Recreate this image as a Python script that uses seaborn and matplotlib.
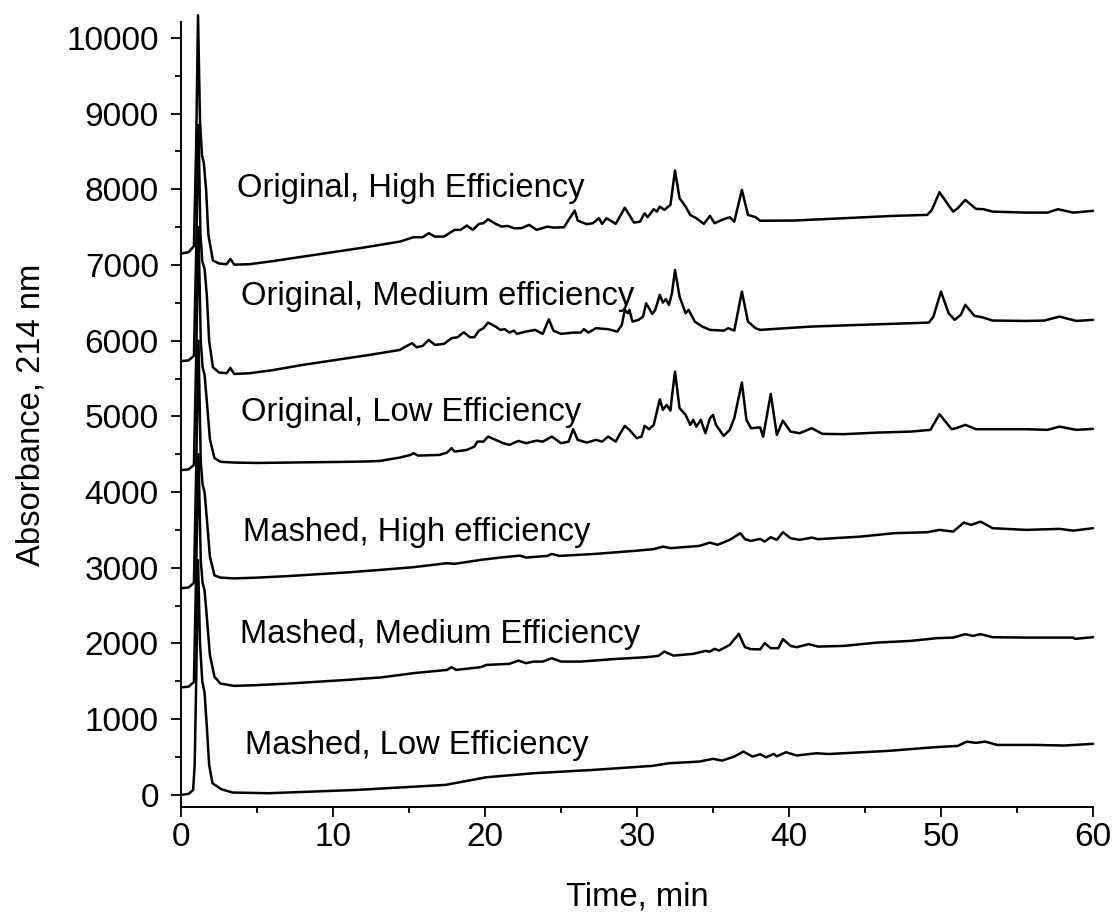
import numpy as np
import pandas as pd
import matplotlib
matplotlib.use("Agg")
import matplotlib.pyplot as plt
from matplotlib.ticker import MultipleLocator
import seaborn as sns

# ---------------- data ----------------
labels = ["Original, High Efficiency", "Original, Medium efficiency",
          "Original, Low Efficiency", "Mashed, High efficiency",
          "Mashed, Medium Efficiency", "Mashed, Low Efficiency"]

orig_high_t = [0, 0.5, 0.85, 1.0, 1.12, 1.25, 1.38, 1.5, 1.65, 1.8, 2.1, 2.5, 3.0, 3.25, 3.5, 4.5, 6, 8, 10, 12,
               13.1, 14.4, 15.3, 15.9, 16.3, 16.7, 17.3, 18.0, 18.4, 18.8, 19.2, 19.6, 19.9, 20.2, 20.7, 21.1,
               21.5, 21.9, 22.4, 22.9, 23.4, 24.1, 24.5, 25.2, 25.5, 25.9, 26.1, 26.7, 27.1, 27.5, 27.7, 28.0,
               28.6, 29.2, 29.8, 30.2, 30.5, 30.7, 31.1, 31.3, 31.5, 31.8, 32.2, 32.5, 32.8, 33.2, 33.5, 33.9,
               34.4, 34.8, 35.1, 35.7, 36.1, 36.4, 36.9, 37.3, 37.8, 38.1, 40.3, 43.6, 46.9, 49.1, 49.4, 49.9,
               50.4, 50.8, 51.1, 51.6, 52.3, 52.8, 53.4, 55.6, 57.0, 57.7, 58.7, 60.0]
orig_high_v = [7150, 7170, 7250, 8600, 10300, 8900, 8450, 8350, 8000, 7400, 7060, 7020, 7010, 7080, 7005, 7010, 7050, 7110, 7170, 7230,
               7266, 7309, 7367, 7367, 7420, 7375, 7375, 7464, 7464, 7521, 7464, 7543, 7552, 7605, 7543, 7507,
               7516, 7486, 7486, 7530, 7464, 7507, 7494, 7499, 7596, 7719, 7587, 7539, 7552, 7618, 7543, 7618,
               7543, 7758, 7560, 7573, 7684, 7631, 7737, 7705, 7771, 7728, 7794, 8247, 7882, 7771, 7662, 7618,
               7543, 7649, 7552, 7605, 7631, 7573, 7992, 7662, 7631, 7585, 7587, 7618, 7649, 7662, 7728, 7962,
               7816, 7705, 7750, 7860, 7741, 7737, 7705, 7692, 7692, 7737, 7692, 7715]

orig_med_t = [0, 0.5, 0.85, 1.0, 1.15, 1.28, 1.4, 1.55, 1.7, 1.85, 2.1, 2.5, 3.0, 3.25, 3.5, 4.5, 6, 8, 10, 12,
              13.1, 14.4, 14.7, 15.2, 15.5, 15.9, 16.3, 16.7, 17.3, 17.8, 18.2, 18.6, 19.0, 19.3, 19.6, 19.9,
              20.2, 20.7, 21.0, 21.3, 21.6, 21.9, 22.1, 22.7, 23.3, 23.8, 24.2, 24.5, 25.0, 25.8, 26.3, 26.5,
              26.8, 27.3, 28.1, 28.7, 29.0, 29.2, 29.4, 29.5, 29.7, 30.1, 30.4, 30.6, 31.0, 31.2, 31.5, 31.7,
              31.9, 32.1, 32.3, 32.5, 32.8, 33.0, 33.2, 33.4, 33.8, 34.3, 34.8, 35.7, 36.0, 36.4, 36.9, 37.3,
              37.8, 38.1, 41.4, 44.7, 48.0, 49.2, 49.5, 50.0, 50.5, 50.9, 51.3, 51.6, 52.2, 52.7, 53.4, 55.6,
              56.8, 57.8, 58.9, 60.0]
orig_med_v = [5730, 5740, 5800, 7200, 8850, 7400, 7050, 6950, 6600, 6000, 5650, 5580, 5570, 5640, 5560, 5570, 5610, 5680, 5740, 5800,
              5835, 5878, 5914, 5967, 5914, 5931, 6011, 5945, 5958, 6033, 6046, 6112, 6046, 6046, 6133, 6165,
              6239, 6186, 6143, 6152, 6107, 6133, 6090, 6120, 6143, 6090, 6284, 6133, 6090, 6107, 6107, 6152,
              6107, 6165, 6152, 6120, 6209, 6407, 6363, 6407, 6252, 6275, 6318, 6495, 6354, 6407, 6605, 6503,
              6548, 6473, 6627, 6935, 6582, 6473, 6363, 6407, 6252, 6186, 6143, 6133, 6165, 6133, 6649, 6252,
              6165, 6143, 6186, 6209, 6231, 6239, 6318, 6649, 6363, 6275, 6341, 6473, 6328, 6310, 6266, 6261,
              6266, 6318, 6261, 6275]

orig_low_t = [0, 0.5, 0.85, 1.0, 1.15, 1.3, 1.42, 1.55, 1.7, 1.9, 2.2, 2.6, 3.5, 5, 7, 9, 11, 12.3,
              13.1, 14.4, 15.1, 15.3, 15.6, 17.0, 17.5, 17.8, 18.0, 18.8, 19.3, 19.5, 19.9, 20.2, 20.7, 21.2,
              21.6, 22.2, 22.7, 23.4, 23.8, 24.4, 25.0, 25.5, 25.8, 26.1, 26.7, 27.3, 27.7, 28.1, 28.6, 28.9,
              29.2, 29.5, 29.98, 30.3, 30.5, 30.8, 31.1, 31.5, 31.7, 31.95, 32.2, 32.3, 32.5, 32.8, 32.9, 33.2,
              33.5, 33.7, 33.9, 34.2, 34.5, 34.8, 35.0, 35.2, 35.7, 36.1, 36.4, 36.9, 37.2, 37.5, 38.1, 38.3,
              38.8, 39.2, 39.6, 40.1, 40.7, 41.5, 42.2, 43.6, 45.8, 48.0, 49.3, 49.9, 50.7, 51.0, 51.6, 52.3,
              55.6, 57.0, 57.8, 58.9, 60.0]
orig_low_v = [4290, 4300, 4360, 5800, 7500, 6000, 5650, 5550, 5200, 4700, 4450, 4400, 4390, 4385, 4390, 4395, 4400, 4405,
              4412, 4456, 4491, 4514, 4482, 4491, 4522, 4580, 4535, 4557, 4601, 4667, 4667, 4733, 4690, 4646,
              4624, 4676, 4646, 4680, 4667, 4733, 4646, 4667, 4831, 4690, 4654, 4690, 4667, 4733, 4667, 4778,
              4874, 4822, 4712, 4733, 4874, 4831, 4888, 5227, 5086, 5152, 5077, 5262, 5592, 5108, 5086, 5020,
              4888, 4954, 4865, 4954, 4778, 4976, 5020, 4888, 4742, 4822, 4976, 5447, 4954, 4844, 4855, 4733,
              5297, 4756, 4944, 4799, 4778, 4844, 4769, 4765, 4786, 4799, 4822, 5029, 4831, 4844, 4888, 4831,
              4831, 4822, 4865, 4822, 4835]

mash_high_t = [0, 0.5, 0.85, 1.0, 1.15, 1.3, 1.42, 1.55, 1.7, 1.9, 2.2, 2.6, 3.5, 5, 7, 9, 11, 12.3,
               13.1, 15.3, 17.5, 18.0, 19.7, 21.0, 22.3, 22.7, 24.1, 24.4, 24.9, 27.3, 29.8, 31.1, 31.7, 32.2,
               34.1, 34.8, 35.3, 36.1, 36.8, 37.1, 37.5, 38.1, 38.4, 38.8, 39.2, 39.6, 40.1, 40.7, 41.5, 41.9,
               44.7, 46.9, 49.1, 49.9, 50.8, 51.5, 52.0, 52.6, 53.4, 55.6, 57.8, 58.7, 60.0]
mash_high_v = [2730, 2740, 2800, 4300, 6000, 4400, 4100, 4000, 3650, 3150, 2900, 2870, 2860, 2870, 2890, 2915, 2940, 2960,
               2972, 3008, 3061, 3052, 3104, 3135, 3161, 3135, 3157, 3184, 3157, 3184, 3223, 3246, 3280, 3259,
               3289, 3333, 3303, 3369, 3457, 3378, 3355, 3382, 3346, 3404, 3369, 3470, 3391, 3369, 3399, 3378,
               3412, 3457, 3470, 3501, 3478, 3597, 3567, 3610, 3523, 3501, 3514, 3491, 3523]

mash_med_t = [0, 0.5, 0.85, 1.0, 1.15, 1.3, 1.42, 1.55, 1.7, 1.9, 2.2, 2.6, 3.5, 5, 7, 9, 11, 12.3,
              13.1, 15.3, 17.5, 17.8, 18.1, 19.7, 20.1, 21.6, 22.2, 22.7, 23.2, 23.8, 24.4, 25.0, 26.3, 28.4,
              30.6, 31.4, 31.8, 32.4, 33.7, 34.5, 34.8, 35.1, 35.4, 36.1, 36.7, 37.1, 37.5, 38.1, 38.4, 38.8,
              39.3, 39.6, 40.1, 40.5, 41.3, 41.9, 43.6, 45.8, 48.0, 49.7, 50.8, 51.6, 52.1, 52.6, 53.4, 55.6,
              58.7, 58.8, 60.0]
mash_med_v = [1420, 1430, 1490, 3000, 4500, 3100, 2800, 2700, 2350, 1850, 1560, 1470, 1440, 1450, 1470, 1495, 1520, 1540,
              1550, 1608, 1651, 1687, 1651, 1687, 1717, 1731, 1774, 1740, 1761, 1761, 1806, 1761, 1761, 1793,
              1819, 1836, 1893, 1840, 1863, 1902, 1893, 1929, 1906, 1982, 2127, 1951, 1925, 1922, 2004, 1938,
              1938, 2057, 1968, 1951, 1991, 1959, 1968, 2012, 2034, 2070, 2078, 2123, 2100, 2123, 2083, 2078,
              2078, 2061, 2083]

mash_low_t = [0, 0.5, 0.8, 0.9, 1.0, 1.12, 1.25, 1.4, 1.55, 1.7, 1.85, 2.07, 2.65, 3.4, 5.75, 11.6, 17.4, 20.1,
              23.2, 27.1, 31.0, 32.1, 34.1, 35.0, 35.6, 36.4, 37.0, 37.6, 38.1, 38.5, 39.0, 39.2, 39.8, 40.5,
              41.8, 42.6, 46.5, 49.6, 51.1, 51.7, 52.3, 52.9, 53.7, 56.2, 58.1, 60.0]
mash_low_v = [0, 13, 66, 400, 1500, 3100, 2000, 1500, 1350, 900, 400, 154, 75, 31, 22, 66, 132, 233,
              286, 330, 383, 418, 440, 476, 453, 506, 572, 506, 537, 497, 542, 510, 564, 520,
              550, 540, 581, 630, 647, 704, 687, 704, 660, 660, 652, 674]

# text anchor positions (data units) for the trace labels
label_t = [3.68, 3.95, 3.95, 4.08, 3.88, 4.21]
label_v = [7900, 6473, 4945, 3360, 2004, 542]

# ---------------- build long-form table ----------------
series = [(orig_high_t, orig_high_v), (orig_med_t, orig_med_v), (orig_low_t, orig_low_v),
          (mash_high_t, mash_high_v), (mash_med_t, mash_med_v), (mash_low_t, mash_low_v)]
frames = []
for name, (t, v) in zip(labels, series):
    frames.append(pd.DataFrame({"time": t, "absorbance": v, "sample": name}))
df = pd.concat(frames, ignore_index=True)

# ---------------- plotting ----------------
sns.set_style("ticks")
plt.rcParams["font.family"] = ["Liberation Sans", "DejaVu Sans"]
plt.rcParams["text.color"] = "black"
plt.rcParams["axes.labelcolor"] = "black"

fig = plt.figure(figsize=(11.16, 9.22), dpi=100)
ax = fig.add_axes([181 / 1116, 1 - 807 / 922, (1093 - 181) / 1116, (807 - 22) / 922])

sns.lineplot(data=df, x="time", y="absorbance", units="sample", estimator=None,
             sort=False, color="black", linewidth=1.8, ax=ax, legend=False)
for line in ax.lines:
    line.set_clip_on(False)

for txt, tx, ty in zip(labels, label_t, label_v):
    ax.text(tx, ty, txt, fontsize=23.6, ha="left", va="baseline", color="black")

ax.set_xlim(0, 60)
ax.set_ylim(-160, 10210)
ax.set_xticks(range(0, 61, 10))
ax.set_yticks(range(0, 10001, 1000))
ax.xaxis.set_minor_locator(MultipleLocator(5))
ax.yaxis.set_minor_locator(MultipleLocator(500))
ax.tick_params(axis="both", which="major", direction="out", length=7, width=1.3,
               labelsize=24, color="black", labelcolor="black")
ax.tick_params(axis="x", which="major", pad=4)
ax.tick_params(axis="y", which="major", pad=9)
ax.tick_params(axis="both", which="minor", direction="out", length=4, width=1.3, color="black")

for side in ["top", "right"]:
    ax.spines[side].set_visible(False)
for side in ["left", "bottom"]:
    ax.spines[side].set_linewidth(1.4)
    ax.spines[side].set_color("black")

ax.set_xlabel("Time, min", fontsize=23.6, labelpad=20, color="black")
ax.set_ylabel("Absorbance, 214 nm", fontsize=23.6, labelpad=14, color="black")

fig.savefig("out.png", dpi=100)
